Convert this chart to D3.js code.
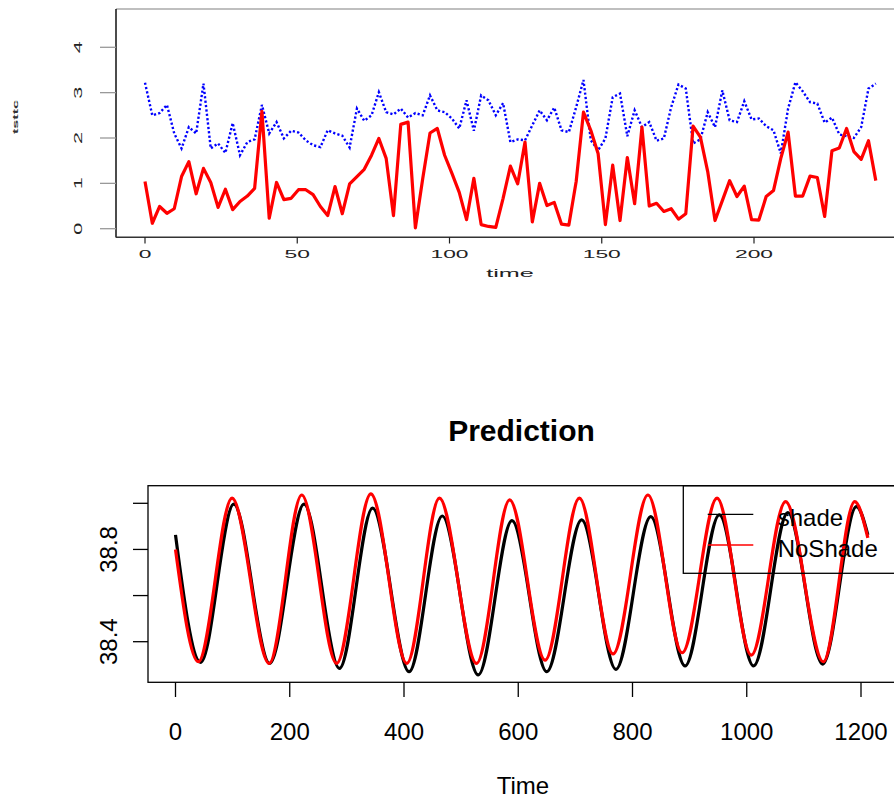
<!DOCTYPE html>
<html><head><meta charset="utf-8">
<script src="https://cdn.jsdelivr.net/npm/d3@7"></script>
<style>body{margin:0;background:#fff} svg{display:block}</style>
</head><body>
<script>
// ---------- top chart data ----------
const topTimeStep = 2.4;
const redSeries = [1.04,0.12,0.49,0.34,0.44,1.15,1.48,0.77,1.33,1.02,
  0.47,0.87,0.42,0.60,0.72,0.89,2.59,0.23,1.02,0.64,
  0.67,0.86,0.86,0.75,0.49,0.29,0.93,0.33,0.99,1.15,
  1.31,1.62,1.99,1.55,0.29,2.30,2.35,0.02,1.10,2.11,
  2.21,1.62,1.22,0.80,0.20,1.11,0.09,0.05,0.03,0.67,
  1.38,0.99,1.91,0.15,1.00,0.51,0.58,0.10,0.08,1.04,
  2.57,2.17,1.66,0.09,1.40,0.18,1.57,0.55,2.24,0.50,
  0.56,0.38,0.44,0.21,0.33,2.26,2.02,1.26,0.18,0.62,
  1.06,0.71,0.94,0.20,0.19,0.71,0.84,1.55,2.13,0.72,
  0.72,1.16,1.13,0.27,1.72,1.78,2.21,1.70,1.53,1.94,1.06];
const blueSeries = [3.22,2.50,2.55,2.73,2.10,1.77,2.24,2.10,3.20,1.77,
  1.88,1.67,2.33,1.62,1.91,1.97,2.73,2.10,2.35,1.99,
  2.16,2.12,1.95,1.84,1.80,2.17,2.10,2.05,1.79,2.65,
  2.38,2.50,3.01,2.57,2.52,2.65,2.45,2.55,2.50,2.94,
  2.61,2.57,2.43,2.21,2.83,2.16,2.94,2.83,2.50,2.77,
  1.91,1.97,1.95,2.28,2.61,2.39,2.67,2.17,2.13,2.68,
  3.28,1.95,1.73,1.99,2.90,2.98,2.04,2.61,2.24,2.35,
  1.94,1.99,2.68,3.18,3.09,1.88,1.97,2.57,2.24,3.05,
  2.39,2.35,2.81,2.41,2.43,2.26,2.17,1.66,2.65,3.23,
  3.03,2.79,2.76,2.34,2.45,2.08,2.04,2.00,2.24,3.09,3.20];
const topXTicks = [0,50,100,150,200];
const topYTicks = [0,1,2,3,4];
const topXLabel = "time";
const topYLabel = "tsttc";

// ---------- bottom chart data (turning points) ----------
const noShadeT = [0,40,99,164,221,282,342,405,462,527,585,647,707,766,827,887,948,1008,1068,1134,1189,1212];
const noShadeV = [38.80,38.313,39.022,38.306,39.036,38.306,39.041,38.306,39.022,38.306,39.015,38.32,39.022,38.347,39.036,38.352,39.022,38.342,39.007,38.313,39.007,38.85];
const shadeT = [0,44,102,165,225,287,345,409,467,530,589,650,711,771,832,892,952,1012,1072,1133,1192,1212];
const shadeV = [38.863,38.31,38.996,38.306,38.996,38.284,38.979,38.27,38.945,38.256,38.925,38.27,38.928,38.28,38.942,38.295,38.95,38.295,38.96,38.303,38.986,38.863];
const botXTicks = [0,200,400,600,800,1000,1200];
const botYTicks = [38.4,38.6,38.8,39.0];
const botYLabels = [38.4,38.8];
const legendNames = ["shade","NoShade"];
const legendColors = ["#000000","#ff0000"];
const chartTitle = "Prediction";
const botXLabel = "Time";

const FONT = "'Liberation Sans', Arial, Helvetica, sans-serif";
const svg = d3.select("body").append("svg").attr("width",894).attr("height",800)
  .style("font-family",FONT);

// ================= TOP CHART =================
const xT = d3.scaleLinear().domain([0,200]).range([145,754]);
const yT = d3.scaleLinear().domain([0,4]).range([228.7,47.3]);
const gTop = svg.append("g");
gTop.append("line").attr("x1",116).attr("x2",894).attr("y1",9).attr("y2",9).attr("stroke","#aaa").attr("stroke-width",1.5);
gTop.append("line").attr("x1",116).attr("x2",116).attr("y1",9).attr("y2",237.5).attr("stroke","#111").attr("stroke-width",1.5);
gTop.append("line").attr("x1",116).attr("x2",894).attr("y1",237.3).attr("y2",237.3).attr("stroke","#333").attr("stroke-width",1.4);
topYTicks.forEach(v=>{
  gTop.append("line").attr("x1",100).attr("x2",116).attr("y1",yT(v)).attr("y2",yT(v)).attr("stroke","#999").attr("stroke-width",1.3);
  gTop.append("text").attr("transform",`translate(79,${yT(v)}) rotate(-90) scale(1.8,0.9)`)
    .attr("text-anchor","middle").attr("dominant-baseline","central")
    .attr("font-size",12).attr("fill","#222").text(v);
});
topXTicks.forEach(v=>{
  gTop.append("line").attr("x1",xT(v)).attr("x2",xT(v)).attr("y1",237).attr("y2",243.5).attr("stroke","#222").attr("stroke-width",1.2);
  gTop.append("text").attr("transform",`translate(${xT(v)},258) scale(1.9,0.85)`)
    .attr("text-anchor","middle").attr("font-size",12).attr("fill","#222").text(v);
});
gTop.append("text").attr("transform","translate(510,277) scale(2.1,0.9)")
  .attr("text-anchor","middle").attr("font-size",12).attr("fill","#222").text(topXLabel);
gTop.append("text").attr("transform","translate(15,117) rotate(-90) scale(1.8,0.9)")
  .attr("text-anchor","middle").attr("dominant-baseline","central")
  .attr("font-size",9).attr("font-weight","bold").attr("fill","#333").text(topYLabel);

const lineT = d3.line().x((d,i)=>xT(i*topTimeStep)).y(d=>yT(d));
gTop.append("path").datum(blueSeries).attr("d",lineT).attr("fill","none")
  .attr("stroke","#0000ff").attr("stroke-width",2.4).attr("stroke-dasharray","2.2,2.2");
gTop.append("path").datum(redSeries).attr("d",lineT).attr("fill","none")
  .attr("stroke","#ff0000").attr("stroke-width",3.2).attr("stroke-linejoin","round");

// ================= BOTTOM CHART =================
const xB = d3.scaleLinear().domain([0,1200]).range([175.5,861]);
const yB = d3.scaleLinear().domain([38.4,39.0]).range([641.7,503.3]);
const gBot = svg.append("g");
gBot.append("text").attr("x",521.5).attr("y",441).attr("text-anchor","middle")
  .attr("font-size",30).attr("font-weight","bold").attr("fill","#000").text(chartTitle);

const lineB = d3.line().x(d=>xB(d[0])).y(d=>yB(d[1])).curve(d3.curveMonotoneX);
gBot.append("path").datum(shadeT.map((t,i)=>[t,shadeV[i]])).attr("d",lineB)
  .attr("fill","none").attr("stroke","#000").attr("stroke-width",3.2);
gBot.append("path").datum(noShadeT.map((t,i)=>[t,noShadeV[i]])).attr("d",lineB)
  .attr("fill","none").attr("stroke","#ff0000").attr("stroke-width",3.2);

gBot.append("rect").attr("x",148).attr("y",485.7).attr("width",747).attr("height",196.6)
  .attr("fill","none").attr("stroke","#000").attr("stroke-width",1.3);
botYTicks.forEach(v=>{
  gBot.append("line").attr("x1",133).attr("x2",148).attr("y1",yB(v)).attr("y2",yB(v)).attr("stroke","#000").attr("stroke-width",1.3);
});
botYLabels.forEach(v=>{
  gBot.append("text").attr("transform",`translate(117,${yB(v)}) rotate(-90)`)
    .attr("text-anchor","middle").attr("font-size",24).attr("fill","#000").text(v.toFixed(1));
});
botXTicks.forEach(v=>{
  gBot.append("line").attr("x1",xB(v)).attr("x2",xB(v)).attr("y1",682.3).attr("y2",697).attr("stroke","#000").attr("stroke-width",1.3);
  gBot.append("text").attr("x",xB(v)).attr("y",740).attr("text-anchor","middle")
    .attr("font-size",24).attr("fill","#000").text(v);
});
gBot.append("text").attr("x",523).attr("y",794).attr("text-anchor","middle")
  .attr("font-size",24).attr("fill","#000").text(botXLabel);

const lg = gBot.append("g");
lg.append("rect").attr("x",683.3).attr("y",485.7).attr("width",230).attr("height",87.6)
  .attr("fill","none").attr("stroke","#000").attr("stroke-width",1.3);
const lgY = [514.3,545];
legendNames.forEach((n,i)=>{
  lg.append("line").attr("x1",707.7).attr("x2",753.3).attr("y1",lgY[i]).attr("y2",lgY[i])
    .attr("stroke",legendColors[i]).attr("stroke-width",1.3);
  lg.append("text").attr("x",777.7).attr("y",lgY[i]+12).attr("font-size",24).attr("fill","#000").text(n);
});
</script>
</body></html>
